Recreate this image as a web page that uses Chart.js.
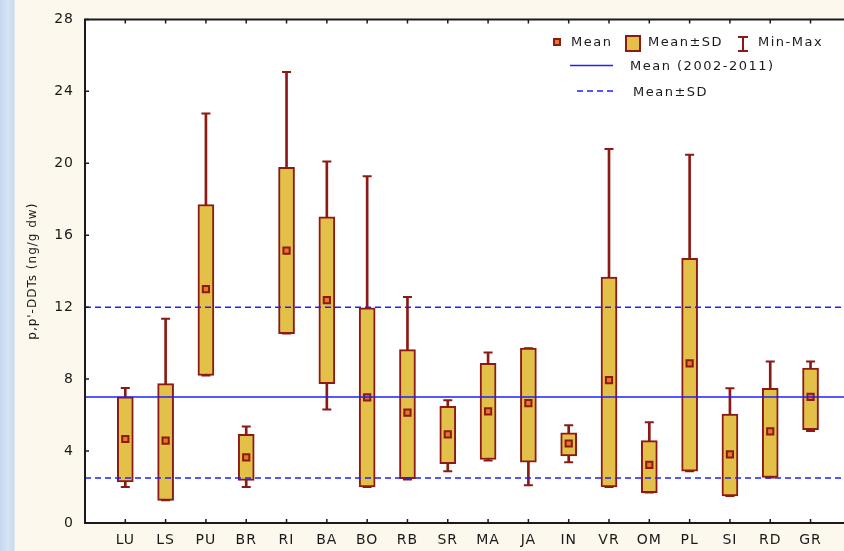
<!DOCTYPE html>
<html><head><meta charset="utf-8">
<script src="https://cdn.jsdelivr.net/npm/chart.js@4.4.1/dist/chart.umd.min.js"></script>
<style>
html,body{margin:0;padding:0;width:844px;height:551px;overflow:hidden;}
body{background:linear-gradient(to right,#c4d8ee 0,#d6e4f3 8px,#c9dbef 14px,#fcf8ee 15px);}
#c{display:block;}
</style></head><body>
<canvas id="c" width="844" height="551"></canvas>
<script>
const categories = ['LU','LS','PU','BR','RI','BA','BO','RB','SR','MA','JA','IN','VR','OM','PL','SI','RD','GR'];
const meanValues = [4.67, 4.58, 13.0, 3.65, 15.15, 12.39, 6.99, 6.14, 4.93, 6.21, 6.66, 4.42, 7.94, 3.23, 8.88, 3.82, 5.1, 7.01];
const sdLow      = [2.28, 1.26, 8.2, 2.37, 10.53, 7.75, 2.0, 2.47, 3.3, 3.53, 3.38, 3.73, 2.0, 1.69, 2.88, 1.5, 2.53, 5.19];
const sdHigh     = [7.01, 7.75, 17.71, 4.93, 19.77, 17.02, 11.96, 9.64, 6.49, 8.88, 9.72, 5.01, 13.68, 4.58, 14.71, 6.05, 7.49, 8.62];
const minValues  = [2.0, 1.26, 8.2, 2.0, 10.53, 6.31, 2.0, 2.42, 2.88, 3.48, 2.1, 3.38, 2.0, 1.69, 2.88, 1.5, 2.53, 5.12];
const maxValues  = [7.51, 11.35, 22.77, 5.36, 25.07, 20.1, 19.28, 12.57, 6.82, 9.48, 9.72, 5.43, 20.8, 5.6, 20.47, 7.49, 8.98, 8.98];
const periodMean = 7.0;
const periodSdHigh = 12.0;
const periodSdLow = 2.5;
const yTickValues = [0, 4, 8, 12, 16, 20, 24, 28];
const xMin = 0, xMax = 18.83;

const DARK = '#8c1a14', GOLD = '#e3c047', ORANGE = '#e8762c', BLUE = '#1f1fff', INK = '#1a1a1a';
const FONT = '"DejaVu Sans", Verdana, sans-serif';

const pos = categories.map((c, i) => i + 1);

const bgPlugin = {
  id: 'bg',
  beforeUpdate(chart) { chart.ctx.letterSpacing = '1px'; },
  beforeDraw(chart) {
    const {ctx, chartArea: a} = chart;
    ctx.letterSpacing = '1px';
    ctx.save();
    ctx.fillStyle = '#ffffff';
    ctx.fillRect(a.left, a.top, chart.width - a.left, a.bottom - a.top);
    ctx.restore();
  }
};

const framePlugin = {
  id: 'frame',
  afterDraw(chart) {
    const {ctx, chartArea: a, scales} = chart;
    ctx.save();
    ctx.strokeStyle = INK;
    ctx.lineWidth = 2;
    ctx.beginPath();
    ctx.moveTo(chart.width, a.top); ctx.lineTo(a.left, a.top); ctx.lineTo(a.left, a.bottom); ctx.lineTo(chart.width, a.bottom);
    ctx.stroke();
    ctx.lineWidth = 1.5;
    ctx.beginPath();
    yTickValues.forEach(v => {
      const y = scales.y.getPixelForValue(v);
      ctx.moveTo(a.left, y); ctx.lineTo(a.left + 4, y);
    });
    pos.forEach(p => {
      const x = scales.x.getPixelForValue(p);
      ctx.moveTo(x, a.bottom); ctx.lineTo(x, a.bottom - 4);
      ctx.moveTo(x, a.top); ctx.lineTo(x, a.top + 4);
    });
    ctx.stroke();
    ctx.restore();
  }
};

const legendPlugin = {
  id: 'customLegend',
  afterDraw(chart) {
    const ctx = chart.ctx;
    ctx.save();
    ctx.letterSpacing = '1.5px';
    ctx.font = '13px ' + FONT;
    ctx.fillStyle = INK;
    ctx.textBaseline = 'middle';
    ctx.textAlign = 'left';
    ctx.fillStyle = ORANGE; ctx.fillRect(554, 39, 6, 6);
    ctx.strokeStyle = DARK; ctx.lineWidth = 2; ctx.strokeRect(554, 39, 6, 6);
    ctx.fillStyle = INK; ctx.fillText('Mean', 571, 43);
    ctx.fillStyle = GOLD; ctx.fillRect(626, 36, 14, 15);
    ctx.strokeRect(626, 36, 14, 15);
    ctx.fillStyle = INK; ctx.fillText('Mean±SD', 648, 43);
    ctx.beginPath();
    ctx.moveTo(743, 37); ctx.lineTo(743, 51);
    ctx.moveTo(738, 37); ctx.lineTo(748, 37);
    ctx.moveTo(738, 51); ctx.lineTo(748, 51);
    ctx.stroke();
    ctx.fillText('Min-Max', 758, 43);
    ctx.strokeStyle = BLUE; ctx.lineWidth = 1.5;
    ctx.beginPath(); ctx.moveTo(570, 65.5); ctx.lineTo(613, 65.5); ctx.stroke();
    ctx.fillText('Mean (2002-2011)', 630, 67);
    ctx.setLineDash([6, 4]);
    ctx.beginPath(); ctx.moveTo(577, 91); ctx.lineTo(613, 91); ctx.stroke();
    ctx.setLineDash([]);
    ctx.fillText('Mean±SD', 633, 93);
    ctx.restore();
  }
};

const whiskerData = pos.map((p, i) => ({x: p, y: [minValues[i], maxValues[i]]}));
const capData = pos.map((p, i) => ({x: p, y: maxValues[i]})).concat(pos.map((p, i) => ({x: p, y: minValues[i]})));
const boxData = pos.map((p, i) => ({x: p, y: [sdLow[i], sdHigh[i]]}));
const meanData = pos.map((p, i) => ({x: p, y: meanValues[i]}));

new Chart(document.getElementById('c'), {
  type: 'bar',
  data: {
    datasets: [
      {type: 'line', label: 'Mean (2002-2011)', data: [{x: xMin, y: periodMean}, {x: xMax, y: periodMean}], borderColor: BLUE, borderWidth: 1.5, pointRadius: 0, order: 0},
      {type: 'line', label: 'Mean+SD', data: [{x: xMin, y: periodSdHigh}, {x: xMax, y: periodSdHigh}], borderColor: BLUE, borderWidth: 1.5, borderDash: [6, 4], pointRadius: 0, order: 0},
      {type: 'line', label: 'Mean-SD', data: [{x: xMin, y: periodSdLow}, {x: xMax, y: periodSdLow}], borderColor: BLUE, borderWidth: 1.5, borderDash: [6, 4], pointRadius: 0, order: 0},
      {type: 'line', label: 'Mean', data: meanData, showLine: false, pointStyle: 'rect', pointRadius: 4.4, pointBackgroundColor: ORANGE, pointBorderColor: DARK, pointBorderWidth: 2, order: 1},
      {type: 'bar', label: 'Mean±SD', data: boxData, barThickness: 16, grouped: false, backgroundColor: GOLD, borderColor: DARK, borderWidth: 2, borderSkipped: false, order: 2},
      {type: 'line', label: 'caps', data: capData, showLine: false, pointStyle: 'line', pointRadius: 4.5, pointBorderColor: DARK, pointBorderWidth: 2, order: 3},
      {type: 'bar', label: 'Min-Max', data: whiskerData, barThickness: 2, grouped: false, backgroundColor: DARK, borderWidth: 0, order: 4}
    ]
  },
  options: {
    responsive: false,
    animation: false,
    layout: {autoPadding: false, padding: {top: 19, left: 0, right: 0, bottom: 0}},
    plugins: {legend: {display: false}, tooltip: {enabled: false}},
    scales: {
      x: {
        type: 'linear', min: xMin, max: xMax, offset: false,
        grid: {display: false, drawTicks: false, offset: false},
        border: {display: false},
        afterBuildTicks: s => { s.ticks = pos.map(v => ({value: v})); },
        afterFit: s => { s.height = 28; },
        ticks: {autoSkip: false, maxRotation: 0, padding: 9, color: INK, font: {family: FONT, size: 14},
                callback: v => categories[v - 1]}
      },
      y: {
        min: 0, max: 28,
        grid: {display: false, drawTicks: false},
        border: {display: false},
        afterBuildTicks: s => { s.ticks = yTickValues.map(v => ({value: v})); },
        afterFit: s => { s.width = 85; },
        ticks: {padding: 11, color: INK, font: {family: FONT, size: 14}},
        title: {display: true, text: "p,p'-DDTs (ng/g dw)", color: INK, font: {family: FONT, size: 12}, padding: {top: 26, bottom: 0}}
      }
    }
  },
  plugins: [bgPlugin, framePlugin, legendPlugin]
});
</script>
</body></html>
